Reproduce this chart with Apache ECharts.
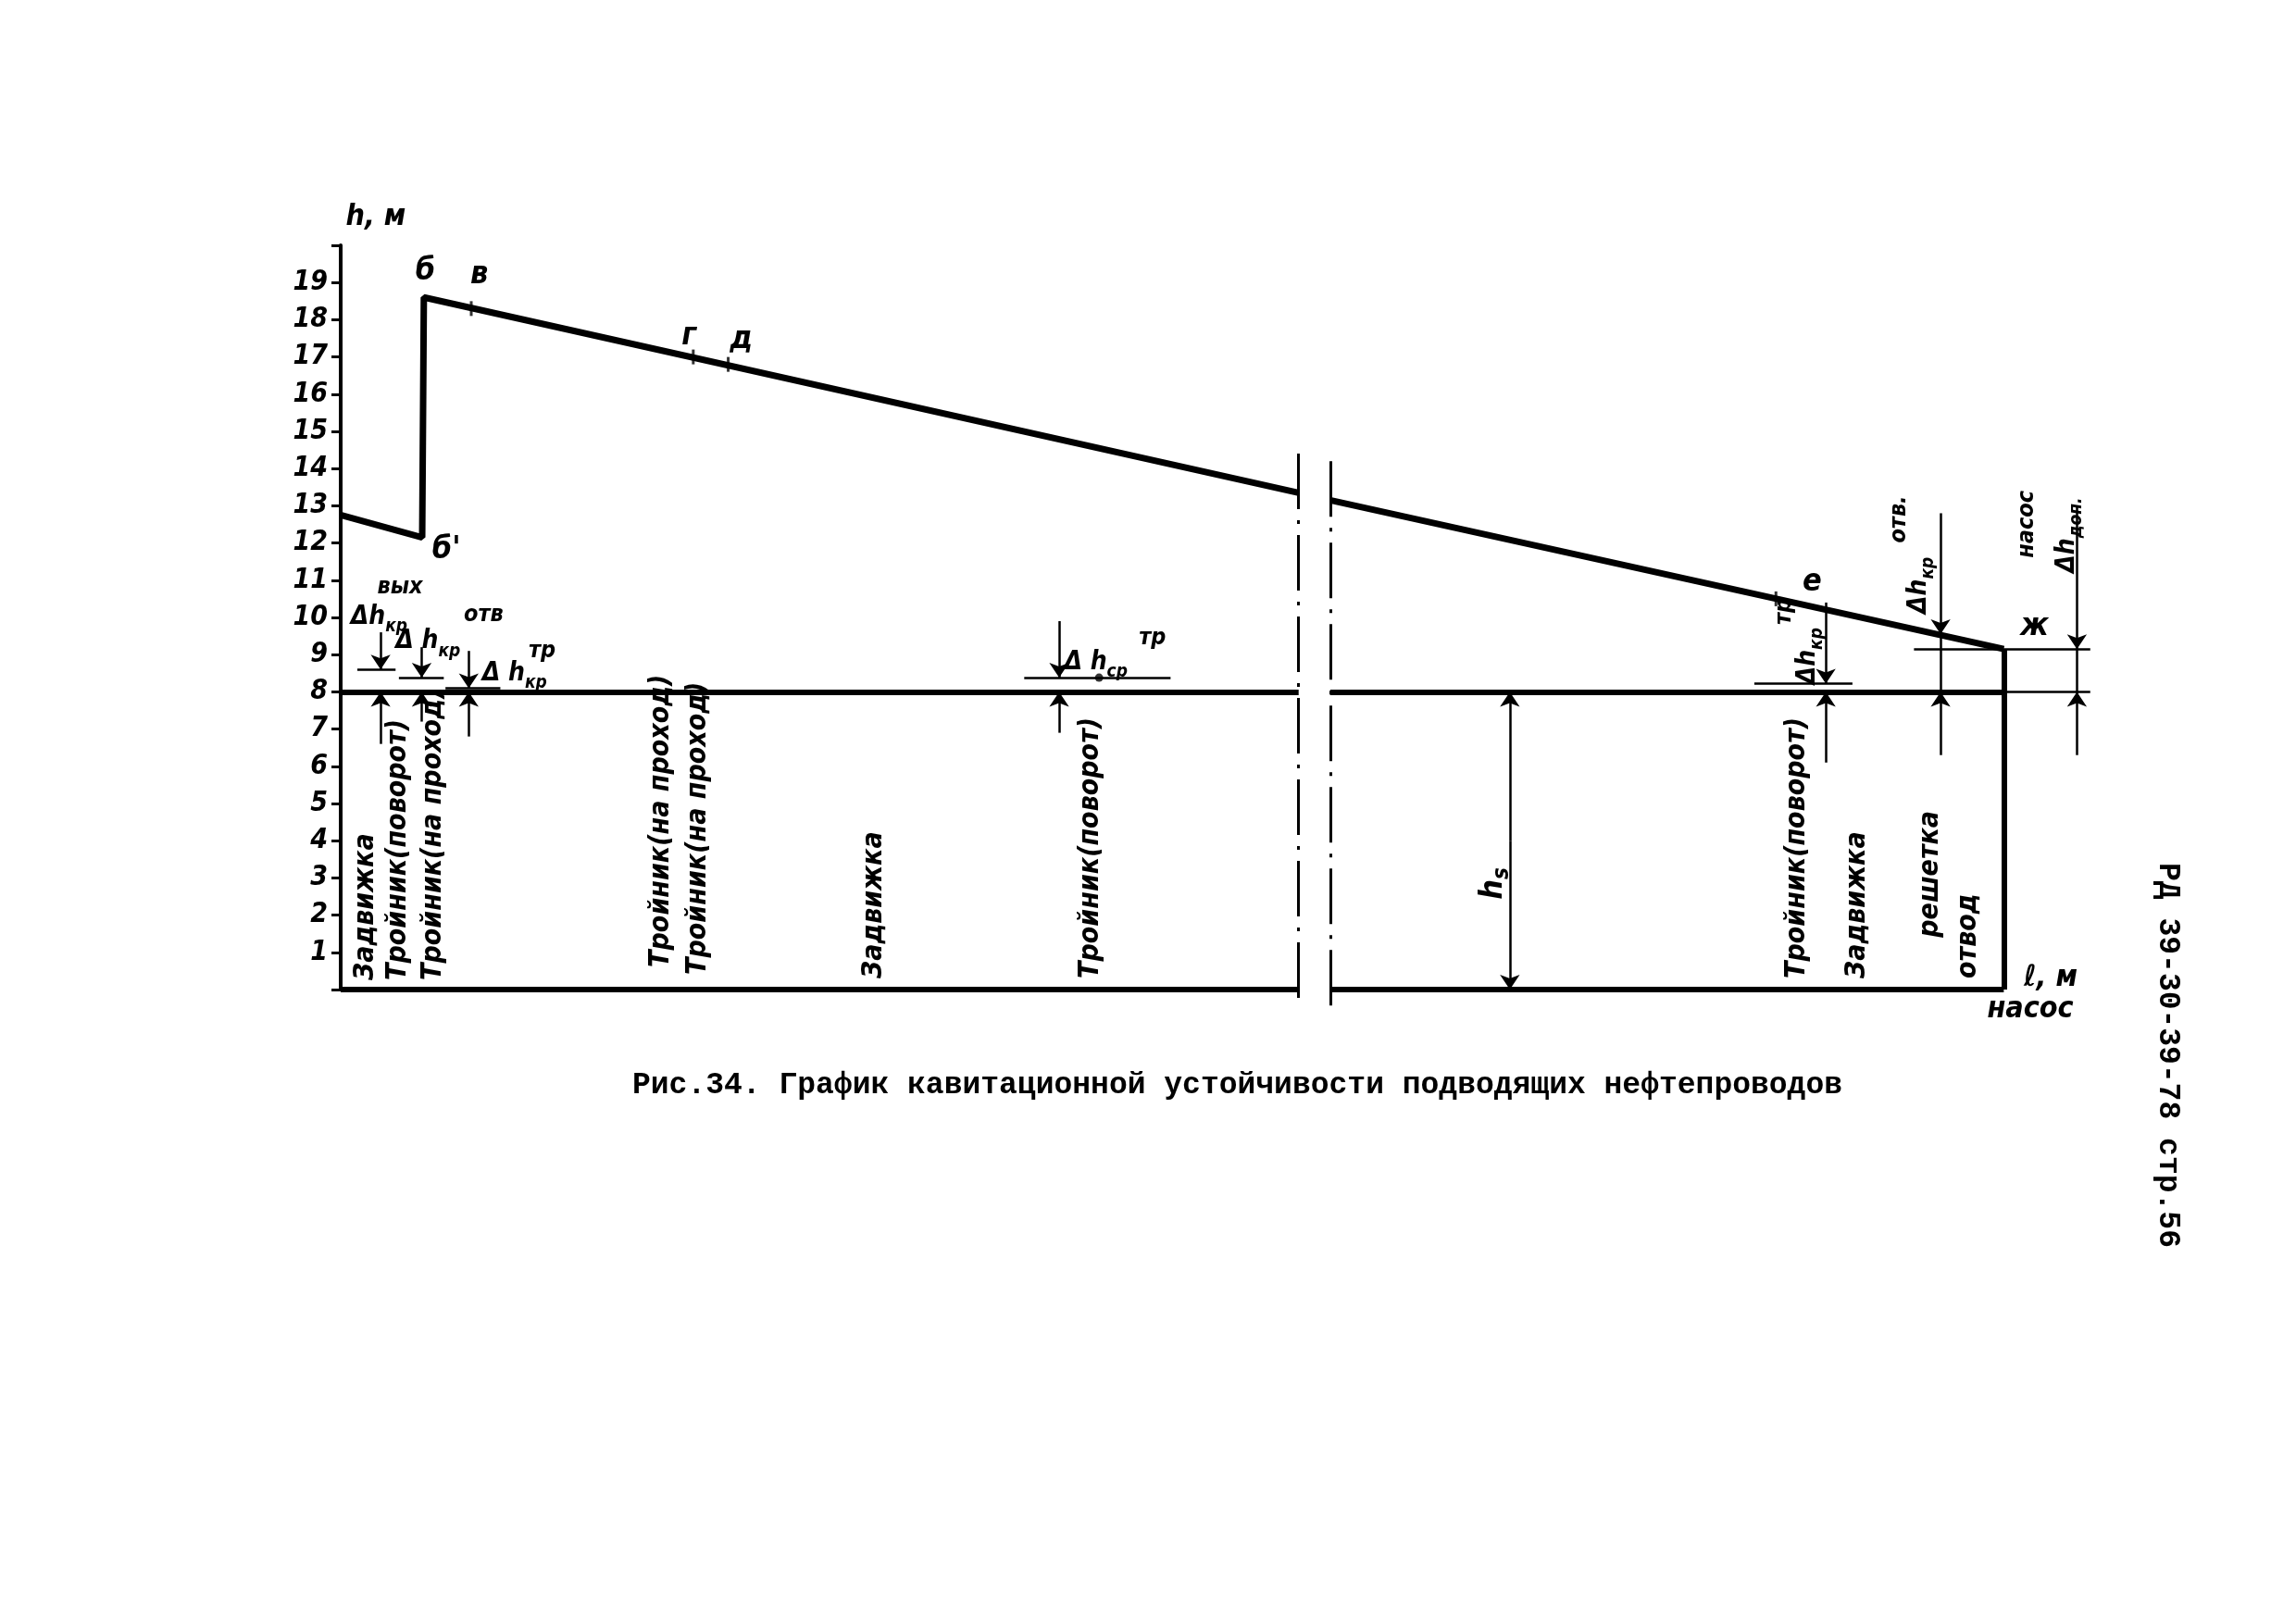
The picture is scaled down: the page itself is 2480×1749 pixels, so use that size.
<!DOCTYPE html>
<html>
<head>
<meta charset="utf-8">
<script src="https://cdn.jsdelivr.net/npm/echarts/dist/echarts.min.js"></script>
<style>
  html, body { margin: 0; background: #fff; }
  #chart { width: 2480px; height: 1749px; }
</style>
</head>
<body>
<div id="chart"></div>
<script>
var fontHand = "'DejaVu Sans Condensed', 'DejaVu Sans', sans-serif";
var fontType = "'Liberation Mono', 'DejaVu Sans Mono', monospace";

// y axis tick labels
var yLabels = ['1', '2', '3', '4', '5', '6', '7', '8', '9', '10',
  '11', '12', '13', '14', '15', '16', '17', '18', '19'];

// head profile, before and after the break
var headBefore = [[0, 12.75], [4.9, 12.15], [5.0, 18.6], [57.6, 13.35]];
var headAfter = [[59.5, 13.15], [100, 9.15]];

// small marks on the head line
var markX = [7.85, 21.2, 23.3, 86.3];
var markY = [18.3, 17.0, 16.8, 10.5];

// point names
var pointNames = ['б', 'в', 'г', 'д', 'б\'', 'е', 'ж'];
var pointX = [4.5, 7.8, 20.5, 23.4, 5.5, 87.9, 101.0];
var pointY = [19.3, 19.2, 17.55, 17.45, 11.8, 10.95, 9.75];

// heavy lines: level 8 m, ground line, right edge
var heavyLines = [
  [[0, 8], [57.6, 8]], [[59.5, 8], [100, 8]],
  [[0, 0], [57.6, 0]], [[59.5, 0], [100, 0]],
  [[100, 9.15], [100, 0]]
];
// break marks
var breakLines = [[[57.6, 14.4], [57.6, -0.45]], [[59.5, 14.2], [59.5, -0.45]]];
// thin guide lines
var thinLines = [
  [[100, 8], [105.2, 8]], [[94.6, 9.15], [105.2, 9.15]],
  [[1.0, 8.6], [3.3, 8.6]], [[3.5, 8.38], [6.2, 8.38]], [[6.3, 8.1], [9.6, 8.1]],
  [[41.1, 8.38], [49.9, 8.38]], [[85.0, 8.22], [90.9, 8.22]],
  [[96.2, 9.55], [96.2, 8]], [[104.4, 9.15], [104.4, 8]]
];
// dimension arrows (arrow head at the second point)
var arrows = [
  [[2.4, 9.6], [2.4, 8.6]], [[2.4, 6.6], [2.4, 8]],
  [[4.87, 9.2], [4.87, 8.38]], [[4.87, 7.2], [4.87, 8]],
  [[7.7, 9.1], [7.7, 8.1]], [[7.7, 6.8], [7.7, 8]],
  [[43.2, 9.9], [43.2, 8.38]], [[43.2, 6.9], [43.2, 8]],
  [[70.3, 4], [70.3, 8]], [[70.3, 4], [70.3, 0]],
  [[89.3, 10.4], [89.3, 8.22]], [[89.3, 6.1], [89.3, 8]],
  [[96.2, 12.8], [96.2, 9.55]], [[96.2, 6.3], [96.2, 8]],
  [[104.4, 13.0], [104.4, 9.15]], [[104.4, 6.3], [104.4, 8]]
];
var dotPoint = [[45.6, 8.38]];

// fittings written upward along the pipe
var fittingNames = ['Задвижка', 'Тройник(поворот)', 'Тройник(на проход)', 'Тройник(на проход)',
  'Тройник(на проход)', 'Задвижка', 'Тройник(поворот)', 'Тройник(поворот)', 'Задвижка',
  'решетка', 'отвод'];
var fittingX = [1.5, 3.45, 5.6, 19.3, 21.5, 32.1, 45.1, 87.6, 91.2, 95.6, 97.9];
var fittingY = [0.25, 0.25, 0.25, 0.6, 0.4, 0.3, 0.3, 0.3, 0.3, 1.4, 0.3];

// head loss notes: symbol, index, place, rotation
var noteMain = ['Δh', 'Δ h', 'Δ h', 'Δ h', 'Δh', 'Δh', 'Δh'];
var noteSub = ['кр', 'кр', 'кр', 'ср', 'кр', 'кр', 'доп.'];
var noteX = [0.6, 3.3, 8.5, 43.5, 88.2, 94.9, 103.8];
var noteY = [10.0, 9.35, 8.5, 8.8, 8.2, 10.1, 11.2];
var noteRot = [0, 0, 0, 0, 90, 90, 90];
var supNames = ['вых', 'отв', 'тр', 'тр', 'тр', 'отв.', 'насос'];
var supX = [2.2, 7.4, 11.3, 48.0, 86.8, 93.7, 101.4];
var supY = [10.8, 10.05, 9.1, 9.45, 9.8, 12.0, 11.6];

var chart = echarts.init(document.getElementById('chart'));

function segs(list) {
  return list.map(function (s) { return { coords: s }; });
}

var fittingData = fittingNames.map(function (n, i) {
  return { name: n, value: [fittingX[i], fittingY[i]] };
});
var pointData = pointNames.map(function (n, i) {
  return { name: n, value: [pointX[i], pointY[i]] };
});
var noteData = noteSub.map(function (s, i) {
  return {
    name: '{m|' + noteMain[i] + '}{s|' + s + '}', value: [noteX[i], noteY[i]],
    label: { rotate: noteRot[i] }
  };
});
var supData = supNames.map(function (s, i) {
  return { name: s, value: [supX[i], supY[i]], label: { rotate: noteRot[i] } };
});
var markData = markX.map(function (x, i) { return [x, markY[i]]; });

var handText = {
  show: true, position: 'inside', formatter: '{b}', color: '#000', opacity: 1,
  textBorderWidth: 0, fontFamily: fontHand, fontStyle: 'italic', fontWeight: 'bold'
};
var richBase = { fontFamily: fontHand, fontStyle: 'italic', fontWeight: 'bold', color: '#000' };

var option = {
  backgroundColor: '#fff',
  animation: false,
  grid: { left: 368, right: 136, top: 265, bottom: 680 },
  xAxis: { type: 'value', min: 0, max: 110, show: false },
  yAxis: {
    type: 'value', min: 0, max: 20, interval: 1,
    axisLine: { show: true, lineStyle: { color: '#000', width: 4 } },
    axisTick: { show: true, length: 10, lineStyle: { color: '#000', width: 3 } },
    splitLine: { show: false },
    axisLabel: {
      color: '#000', fontSize: 30, fontStyle: 'italic', fontWeight: 'bold',
      fontFamily: fontHand, margin: 14,
      formatter: function (v) { return yLabels[v - 1] || ''; }
    }
  },
  graphic: [
    {
      type: 'text', left: 683, top: 1156,
      style: {
        text: 'Рис.34. График кавитационной устойчивости подводящих нефтепроводов',
        font: 'bold 33px ' + fontType, fill: '#000'
      }
    },
    {
      type: 'text', x: 2341, y: 1140, rotation: -Math.PI / 2,
      style: {
        text: 'РД 39-30-39-78 стр.56', font: 'bold 33px ' + fontType, fill: '#000',
        align: 'center', verticalAlign: 'middle'
      }
    }
  ],
  series: [
    {
      type: 'line', data: headBefore, symbol: 'none', clip: false, z: 5,
      lineStyle: { color: '#000', width: 7 }
    },
    {
      type: 'line', data: headAfter, symbol: 'none', clip: false, z: 5,
      lineStyle: { color: '#000', width: 7 }
    },
    {
      type: 'lines', coordinateSystem: 'cartesian2d', clip: false, data: segs(heavyLines),
      lineStyle: { color: '#000', width: 6, opacity: 1 }
    },
    {
      type: 'lines', coordinateSystem: 'cartesian2d', clip: false, data: segs(breakLines),
      lineStyle: { color: '#000', width: 3, opacity: 1, type: [60, 12, 4, 12] }
    },
    {
      type: 'lines', coordinateSystem: 'cartesian2d', clip: false, data: segs(thinLines),
      lineStyle: { color: '#000', width: 2.5, opacity: 1 }
    },
    {
      type: 'lines', coordinateSystem: 'cartesian2d', clip: false, data: segs(arrows),
      symbol: ['none', 'arrow'], symbolSize: 16,
      lineStyle: { color: '#000', width: 2.5, opacity: 1 }
    },
    {
      type: 'scatter', data: markData, symbol: 'rect', symbolSize: [3, 16], clip: false,
      itemStyle: { color: '#000' }
    },
    {
      type: 'scatter', data: dotPoint, symbol: 'circle', symbolSize: 9, clip: false,
      itemStyle: { color: '#000' }
    },
    {
      type: 'scatter', data: fittingData, symbolSize: 0, clip: false,
      label: Object.assign({}, handText, { fontSize: 30, rotate: 90, align: 'left', verticalAlign: 'middle' })
    },
    {
      type: 'scatter', data: pointData, symbolSize: 0, clip: false,
      label: Object.assign({}, handText, { fontSize: 34, align: 'left', verticalAlign: 'middle' })
    },
    {
      type: 'scatter', data: noteData, symbolSize: 0, clip: false,
      label: Object.assign({}, handText, {
        align: 'left', verticalAlign: 'middle',
        rich: {
          m: Object.assign({ fontSize: 28 }, richBase),
          s: Object.assign({ fontSize: 19, verticalAlign: 'bottom', lineHeight: 40 }, richBase)
        }
      })
    },
    {
      type: 'scatter', data: supData, symbolSize: 0, clip: false,
      label: Object.assign({}, handText, { fontSize: 25, align: 'left', verticalAlign: 'middle' })
    },
    {
      type: 'scatter', symbolSize: 0, clip: false,
      data: [
        { name: 'h, м', value: [0.3, 20.75] },
        { name: 'ℓ, м', value: [101.2, 0.3] },
        { name: 'насос', value: [99.0, -0.55] }
      ],
      label: Object.assign({}, handText, { fontSize: 32, align: 'left', verticalAlign: 'middle' })
    },
    {
      type: 'scatter', symbolSize: 0, clip: false,
      data: [{ name: '{m|h}{s|s}', value: [69.3, 2.85] }],
      label: Object.assign({}, handText, {
        rotate: 90, align: 'center', verticalAlign: 'middle',
        rich: {
          m: Object.assign({ fontSize: 34 }, richBase),
          s: Object.assign({ fontSize: 24, verticalAlign: 'bottom', lineHeight: 44 }, richBase)
        }
      })
    }
  ]
};

chart.setOption(option);
</script>
</body>
</html>
